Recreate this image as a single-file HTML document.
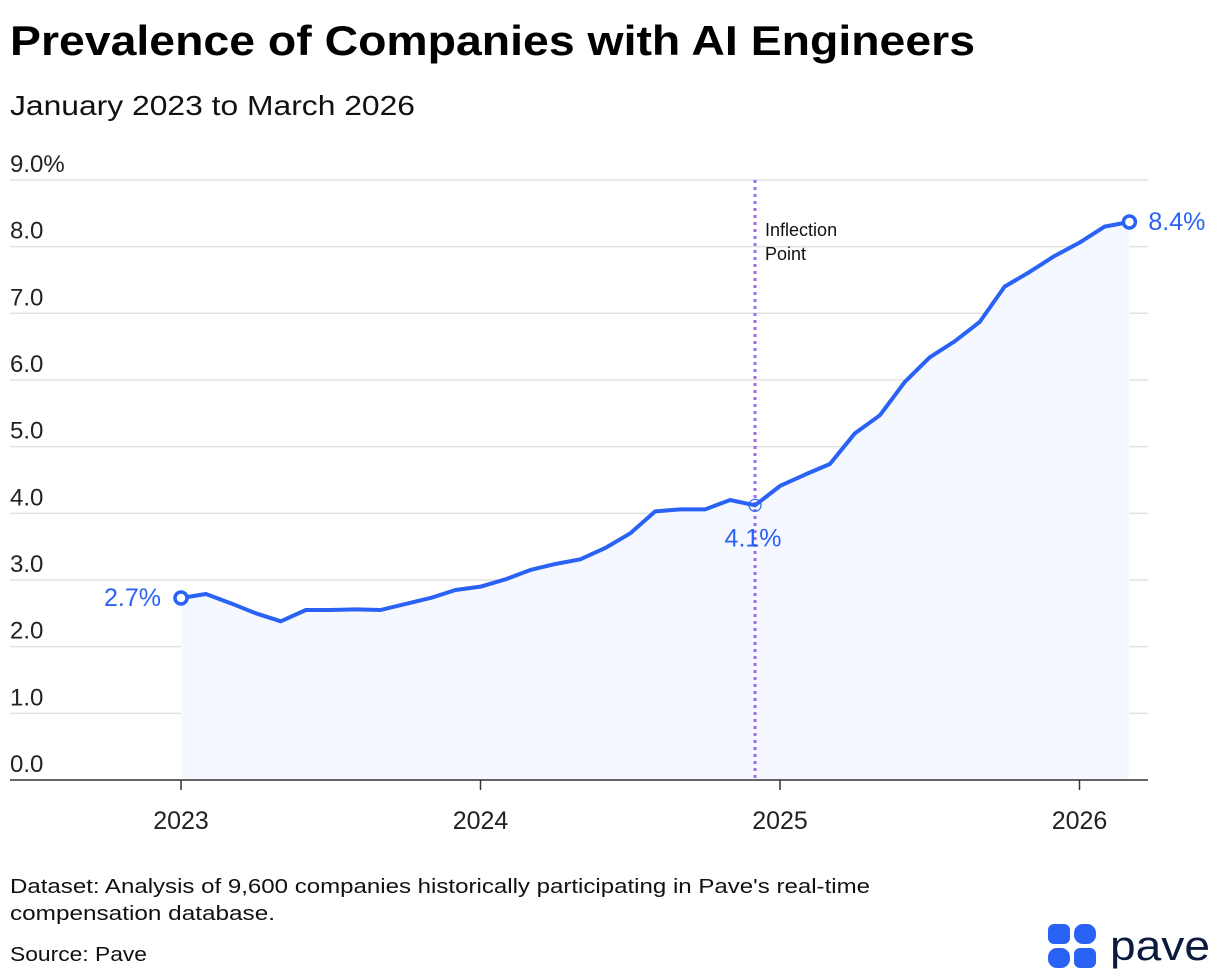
<!DOCTYPE html>
<html><head><meta charset="utf-8"><style>
html,body{margin:0;padding:0;background:#fff;width:1220px;height:978px;overflow:hidden;font-family:"Liberation Sans",sans-serif;}
svg text{font-family:"Liberation Sans",sans-serif;}
</style></head><body>
<svg width="1220" height="978" xmlns="http://www.w3.org/2000/svg" id="chart">
<text x="10" y="55" font-size="42" font-weight="bold" fill="#000" textLength="965" lengthAdjust="spacingAndGlyphs">Prevalence of Companies with AI Engineers</text>
<text x="10" y="115" font-size="28" fill="#111" textLength="405" lengthAdjust="spacingAndGlyphs">January 2023 to March 2026</text>
<g id="grid"></g>
<g id="plot"></g>
<text x="10" y="893" font-size="20" fill="#111" textLength="860" lengthAdjust="spacingAndGlyphs">Dataset: Analysis of 9,600 companies historically participating in Pave's real-time</text>
<text x="10" y="920" font-size="20" fill="#111" textLength="265" lengthAdjust="spacingAndGlyphs">compensation database.</text>
<text x="10" y="961" font-size="20" fill="#111" textLength="137" lengthAdjust="spacingAndGlyphs">Source: Pave</text>
<g>
<rect x="1048" y="924" width="22" height="20" rx="6" fill="#2962f5"/>
<rect x="1074" y="924" width="22" height="20" rx="9" fill="#2962f5"/>
<rect x="1048" y="948" width="22" height="20" rx="9" fill="#2962f5"/>
<rect x="1074" y="948" width="22" height="20" rx="6" fill="#2962f5"/>
<text x="1110" y="960" font-size="42" fill="#0c1a3d" textLength="100" lengthAdjust="spacingAndGlyphs">pave</text>
</g>
</svg>
<script>
const yTicks=[0,1,2,3,4,5,6,7,8,9];
const yTickLabels=["0.0","1.0","2.0","3.0","4.0","5.0","6.0","7.0","8.0","9.0%"];
const xTickYears=[2023,2024,2025,2026];
const values=[2.73,2.79,2.65,2.50,2.38,2.55,2.55,2.56,2.55,2.64,2.73,2.85,2.90,3.01,3.15,3.24,3.31,3.48,3.70,4.03,4.06,4.06,4.20,4.12,4.41,4.58,4.74,5.20,5.47,5.97,6.34,6.58,6.87,7.40,7.62,7.86,8.06,8.30,8.37];
const startYear=2023;
const inflectionIndex=23;
const NS="http://www.w3.org/2000/svg";
function X(m){return 181+m*(299.5/12);}
function Y(v){return 780-v*66.67;}
function mk(t,a,p){const e=document.createElementNS(NS,t);for(const k in a)e.setAttribute(k,a[k]);p.appendChild(e);return e;}
const grid=document.getElementById('grid'),plot=document.getElementById('plot');
yTicks.forEach((v,i)=>{
 if(i>0){const l=mk('line',{x1:10,x2:1148,y1:Y(v),y2:Y(v),stroke:'#e2e2e2','stroke-width':1.5},grid);
 
 }
 const t=mk('text',{x:10,y:Y(v)-8,'font-size':24,fill:'#222'},grid);t.textContent=yTickLabels[i];
 
 
});
const n=values.length;
let d='M'+X(0)+','+Y(0);
values.forEach((v,i)=>{d+=' L'+X(i)+','+Y(v);});
d+=' L'+X(n-1)+','+Y(0)+'Z';
const area=mk('path',{d:d,fill:'#f5f8fe'},plot);


const ax=mk('line',{x1:10,x2:1148,y1:780,y2:780,stroke:'#333','stroke-width':1.5},plot);


xTickYears.forEach(yr=>{
 const x=X((yr-startYear)*12);
 const tk=mk('line',{x1:x,x2:x,y1:780,y2:790,stroke:'#333','stroke-width':1.5},plot);
 
 
 const t=mk('text',{x:x,y:829,'font-size':25,fill:'#222','text-anchor':'middle'},plot);t.textContent=yr;
 
 
});
const ix=X(inflectionIndex);
const il=mk('line',{x1:ix,x2:ix,y1:180,y2:780,stroke:'#9b6cf0','stroke-width':3,'stroke-dasharray':'3,4'},plot);


const it1=mk('text',{x:ix+10,y:236,'font-size':18,fill:'#111'},plot);it1.textContent='Inflection';


const it2=mk('text',{x:ix+10,y:260,'font-size':18,fill:'#111'},plot);it2.textContent='Point';


const line=mk('polyline',{points:values.map((v,i)=>X(i)+','+Y(v)).join(' '),fill:'none',stroke:'#2962f5','stroke-width':4,'stroke-linejoin':'round'},plot);


const c0=mk('circle',{cx:X(0),cy:Y(values[0]),r:6,fill:'#fff',stroke:'#2962f5','stroke-width':3.5},plot);


const c1=mk('circle',{cx:X(inflectionIndex),cy:Y(values[inflectionIndex]),r:6,fill:'none',stroke:'#2962f5','stroke-width':1.2},plot);


const c2=mk('circle',{cx:X(n-1),cy:Y(values[n-1]),r:6,fill:'#fff',stroke:'#2962f5','stroke-width':3.5},plot);


const l0=mk('text',{x:X(0)-20,y:Y(values[0])+8,'font-size':25,fill:'#2962f5','text-anchor':'end'},plot);l0.textContent=values[0].toFixed(1)+'%';


const l1=mk('text',{x:X(inflectionIndex)-2,y:Y(values[inflectionIndex])+41,'font-size':25,fill:'#2962f5','text-anchor':'middle'},plot);l1.textContent=values[inflectionIndex].toFixed(1)+'%';


const l2=mk('text',{x:X(n-1)+19,y:Y(values[n-1])+8,'font-size':25,fill:'#2962f5'},plot);l2.textContent=values[n-1].toFixed(1)+'%';


</script>
</body></html>
